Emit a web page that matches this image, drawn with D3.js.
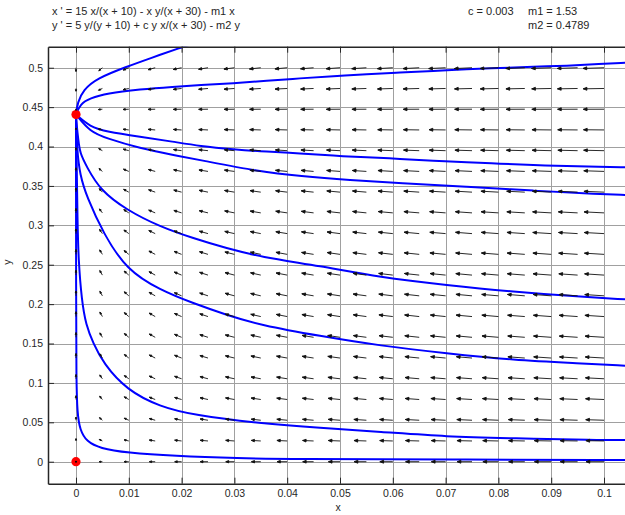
<!DOCTYPE html>
<html>
<head>
<meta charset="utf-8">
<script src="https://cdn.jsdelivr.net/npm/d3@7"></script>
<style>
  body { margin: 0; background: #fff; }
  svg { display: block; font-family: "Liberation Sans", Arial, sans-serif; }
</style>
</head>
<body>
<div id="chart"></div>
<script>
// ---------------- data ----------------
var xTicks = [0, 0.01, 0.02, 0.03, 0.04, 0.05, 0.06, 0.07, 0.08, 0.09, 0.1];
var yTicks = [0, 0.05, 0.1, 0.15, 0.2, 0.25, 0.3, 0.35, 0.4, 0.45, 0.5];

// system parameters (printed top right)
var c = 0.003, m1 = 1.53, m2 = 0.4789;

// equilibrium points (red dots)
var equilibria = [[0, 0.4406], [0, 0]];

// trajectories, [x, y]
var trajA = [[0, 0.4406], [0.0003, 0.4560], [0.00138, 0.4717], [0.00392, 0.4865], [0.0096, 0.5013],
  [0.0140, 0.5119], [0.0203, 0.5266], [0.0215, 0.5290]];
var trajB = [[0, 0.4406], [0.0008, 0.4540], [0.00265, 0.4612], [0.00581, 0.4675], [0.01212, 0.4726],
  [0.01843, 0.4759], [0.02348, 0.4780], [0.02979, 0.4802], [0.03612, 0.4835], [0.04242, 0.4865],
  [0.04873, 0.4895], [0.05506, 0.4916], [0.06136, 0.4942], [0.06767, 0.4958], [0.07400, 0.4983],
  [0.08030, 0.4996], [0.08661, 0.5013], [0.09294, 0.5025], [0.09924, 0.5047], [0.10398, 0.5063]];
var trajC = [[0, 0.4406], [0.00265, 0.4251], [0.00581, 0.4188], [0.01212, 0.4124], [0.01843, 0.4061],
  [0.02348, 0.4006], [0.02979, 0.3964], [0.03612, 0.3934], [0.04242, 0.3914], [0.04873, 0.3883],
  [0.05506, 0.3863], [0.06136, 0.3844], [0.06767, 0.3820], [0.07400, 0.3799], [0.08030, 0.3782],
  [0.08661, 0.3765], [0.09294, 0.3752], [0.09924, 0.3744], [0.10398, 0.3736]];
var trajD = [[0, 0.4406], [0.00265, 0.4188], [0.00581, 0.4104], [0.01212, 0.3977], [0.01843, 0.3892],
  [0.02348, 0.3829], [0.03485, 0.3680], [0.04242, 0.3626], [0.05189, 0.3575], [0.06136, 0.3533],
  [0.07400, 0.3490], [0.08661, 0.3439], [0.09924, 0.3397], [0.10398, 0.3385]];
var trajE = [[0, 0.4406], [0.00013, 0.4273], [0.00044, 0.4083], [0.00076, 0.3914], [0.00203, 0.3744],
  [0.00455, 0.3448], [0.0096, 0.3194], [0.01591, 0.2982], [0.02222, 0.2835], [0.02854, 0.2708],
  [0.03485, 0.2601], [0.04621, 0.2484], [0.05758, 0.2340], [0.07021, 0.2242], [0.08282, 0.2157],
  [0.09545, 0.2094], [0.10398, 0.2061]];
var trajF = [[0, 0.4406], [0.00019, 0.3956], [0.00076, 0.3638], [0.00203, 0.3363], [0.00517, 0.2898],
  [0.0096, 0.2433], [0.01591, 0.2179], [0.02222, 0.2010], [0.02854, 0.1862], [0.03485, 0.1735],
  [0.04621, 0.1595], [0.05758, 0.1472], [0.07021, 0.1376], [0.08282, 0.1291], [0.09545, 0.1249],
  [0.10398, 0.1218]];
var trajG = [[0, 0.4406], [0.00013, 0.3829], [0.00028, 0.3067], [0.00047, 0.2560], [0.00108, 0.2052],
  [0.00189, 0.1735], [0.00328, 0.1503], [0.00517, 0.1249], [0.0096, 0.0910], [0.01591, 0.0698],
  [0.02222, 0.0593], [0.03485, 0.0487], [0.04621, 0.0428], [0.05758, 0.0381], [0.07021, 0.0317],
  [0.08282, 0.0297], [0.09862, 0.0275], [0.10398, 0.0275]];
var trajH = [[0, 0.4406], [0.00002, 0.2052], [0.00006, 0.1037], [0.00025, 0.0614], [0.00076, 0.0402],
  [0.00203, 0.0254], [0.00455, 0.0170], [0.0096, 0.0114], [0.01843, 0.0072], [0.03106, 0.0043],
  [0.04053, 0.0034], [0.07083, 0.0028], [0.10398, 0.0022]];
var trajectories = [trajA, trajB, trajC, trajD, trajE, trajF, trajG, trajH];

// direction field sample points
var fieldX = d3.range(21).map(function(i) { return i * 0.005; });
var fieldY = d3.range(20).map(function(j) { return j * 0.5 / 19; });

// ---------------- layout ----------------
var W = 625, H = 515;
var svg = d3.select("#chart").append("svg").attr("width", W).attr("height", H);

var x = d3.scaleLinear().domain([-0.0053, 0.1053]).range([48, 632]);
var y = d3.scaleLinear().domain([-0.0279, 0.5267]).range([483.7, 46.7]);

// grid
svg.append("g").selectAll("line").data(xTicks).enter().append("line")
    .attr("x1", function(d) { return Math.round(x(d)) + 0.5; })
    .attr("x2", function(d) { return Math.round(x(d)) + 0.5; })
    .attr("y1", y.range()[0]).attr("y2", y.range()[1])
    .attr("stroke", "#a0a0a0").attr("stroke-width", 1);
svg.append("g").selectAll("line").data(yTicks).enter().append("line")
    .attr("y1", function(d) { return Math.round(y(d)) + 0.5; })
    .attr("y2", function(d) { return Math.round(y(d)) + 0.5; })
    .attr("x1", x.range()[0]).attr("x2", x.range()[1])
    .attr("stroke", "#a0a0a0").attr("stroke-width", 1);

// trajectories
svg.append("defs").append("clipPath").attr("id", "plotclip").append("rect")
    .attr("x", 48).attr("y", 46.7).attr("width", 584).attr("height", 437);
var line = d3.line().x(function(p) { return x(p[0]); }).y(function(p) { return y(p[1]); })
    .curve(d3.curveBasis);
svg.append("g").attr("clip-path", "url(#plotclip)").selectAll("path").data(trajectories).enter().append("path")
    .attr("d", line)
    .attr("fill", "none").attr("stroke", "#0000ff").attr("stroke-width", 2);

// equilibria
svg.append("g").selectAll("circle").data(equilibria).enter().append("circle")
    .attr("cx", function(d) { return x(d[0]); })
    .attr("cy", function(d) { return y(d[1]); })
    .attr("r", 4.6).attr("fill", "#ff0000");

// direction field arrows (vector field of the printed system)
function fx(px, py) { return 15 * px / (px + 10) - px * py / (px + 30) - m1 * px; }
function fy(px, py) { return 5 * py / (py + 10) + c * py * px / (px + 30) - m2 * py; }
var kx = (x.range()[1] - x.range()[0]) / (x.domain()[1] - x.domain()[0]);
var ky = (y.range()[0] - y.range()[1]) / (y.domain()[1] - y.domain()[0]);
var arrows = [];
fieldX.forEach(function(a) {
  fieldY.forEach(function(b) {
    var u = fx(a, b) * kx, v = -fy(a, b) * ky;
    arrows.push({ x: a, y: b, u: u, v: v, m: Math.sqrt(u * u + v * v) });
  });
});
var maxM = d3.max(arrows, function(d) { return d.m; });
var Lmax = 21;
var ag = svg.append("g").attr("stroke", "#111").attr("stroke-width", 0.9).attr("fill", "none");
arrows.forEach(function(d) {
  var tx = x(d.x), ty = y(d.y);
  if (d.m < 1e-9) {
    ag.append("circle").attr("cx", tx).attr("cy", ty).attr("r", 1).attr("fill", "#000").attr("stroke", "none");
    return;
  }
  var L = Lmax * Math.sqrt(d.m / maxM);
  var dx = d.u / d.m, dy = d.v / d.m;
  var hx = tx + dx * L, hy = ty + dy * L;
  var h = Math.min(4, 0.25 * L + 1), ang = 0.38;
  var bx = -dx, by = -dy;
  var w1x = hx + h * (bx * Math.cos(ang) - by * Math.sin(ang)), w1y = hy + h * (bx * Math.sin(ang) + by * Math.cos(ang));
  var w2x = hx + h * (bx * Math.cos(-ang) - by * Math.sin(-ang)), w2y = hy + h * (bx * Math.sin(-ang) + by * Math.cos(-ang));
  ag.append("path").attr("d", "M" + tx + "," + ty + "L" + hx + "," + hy +
      "M" + w1x + "," + w1y + "L" + hx + "," + hy + "L" + w2x + "," + w2y + "Z")
    .attr("fill", "#111");
});

// axes
var axisColor = "#262626";
var gb = svg.append("g").attr("transform", "translate(0," + y.range()[0] + ")")
    .call(d3.axisBottom(x).tickValues(xTicks).tickSizeInner(-6).tickSizeOuter(0).tickPadding(6)
      .tickFormat(function(d) { return d3.format("~g")(d); }));
var gt = svg.append("g").attr("transform", "translate(0," + y.range()[1] + ")")
    .call(d3.axisTop(x).tickValues(xTicks).tickSizeInner(-6).tickSizeOuter(0).tickFormat(""));
var gl = svg.append("g").attr("transform", "translate(" + x.range()[0] + ",0)")
    .call(d3.axisLeft(y).tickValues(yTicks).tickSizeInner(-6).tickSizeOuter(0).tickPadding(5)
      .tickFormat(function(d) { return d3.format("~g")(d); }));
[gb, gt, gl].forEach(function(g) {
  g.select(".domain").attr("stroke", axisColor).attr("stroke-width", 1.5);
  g.selectAll(".tick line").attr("stroke", axisColor);
  g.selectAll(".tick text").attr("fill", "#262626").style("font-size", "10.5px")
    .style("font-family", "'Liberation Sans', Arial, sans-serif");
});

// labels
svg.append("text").attr("x", 338).attr("y", 511).attr("text-anchor", "middle")
    .style("font-size", "10.5px").attr("fill", "#262626").text("x");
svg.append("text").attr("transform", "translate(11,262) rotate(-90)").attr("text-anchor", "middle")
    .style("font-size", "10.5px").attr("fill", "#262626").text("y");

var title = [
  { t: "x ' = 15 x/(x + 10) - x y/(x + 30) - m1 x", x: 52, y: 15 },
  { t: "y ' = 5 y/(y + 10) + c y x/(x + 30) - m2 y", x: 52, y: 29 },
  { t: "c = 0.003", x: 468, y: 15 },
  { t: "m1 = 1.53", x: 528, y: 15 },
  { t: "m2 = 0.4789", x: 528, y: 29 }
];
svg.append("g").selectAll("text").data(title).enter().append("text")
    .attr("x", function(d) { return d.x; }).attr("y", function(d) { return d.y; })
    .style("font-size", "11px").attr("fill", "#262626").text(function(d) { return d.t; });
</script>
</body>
</html>
